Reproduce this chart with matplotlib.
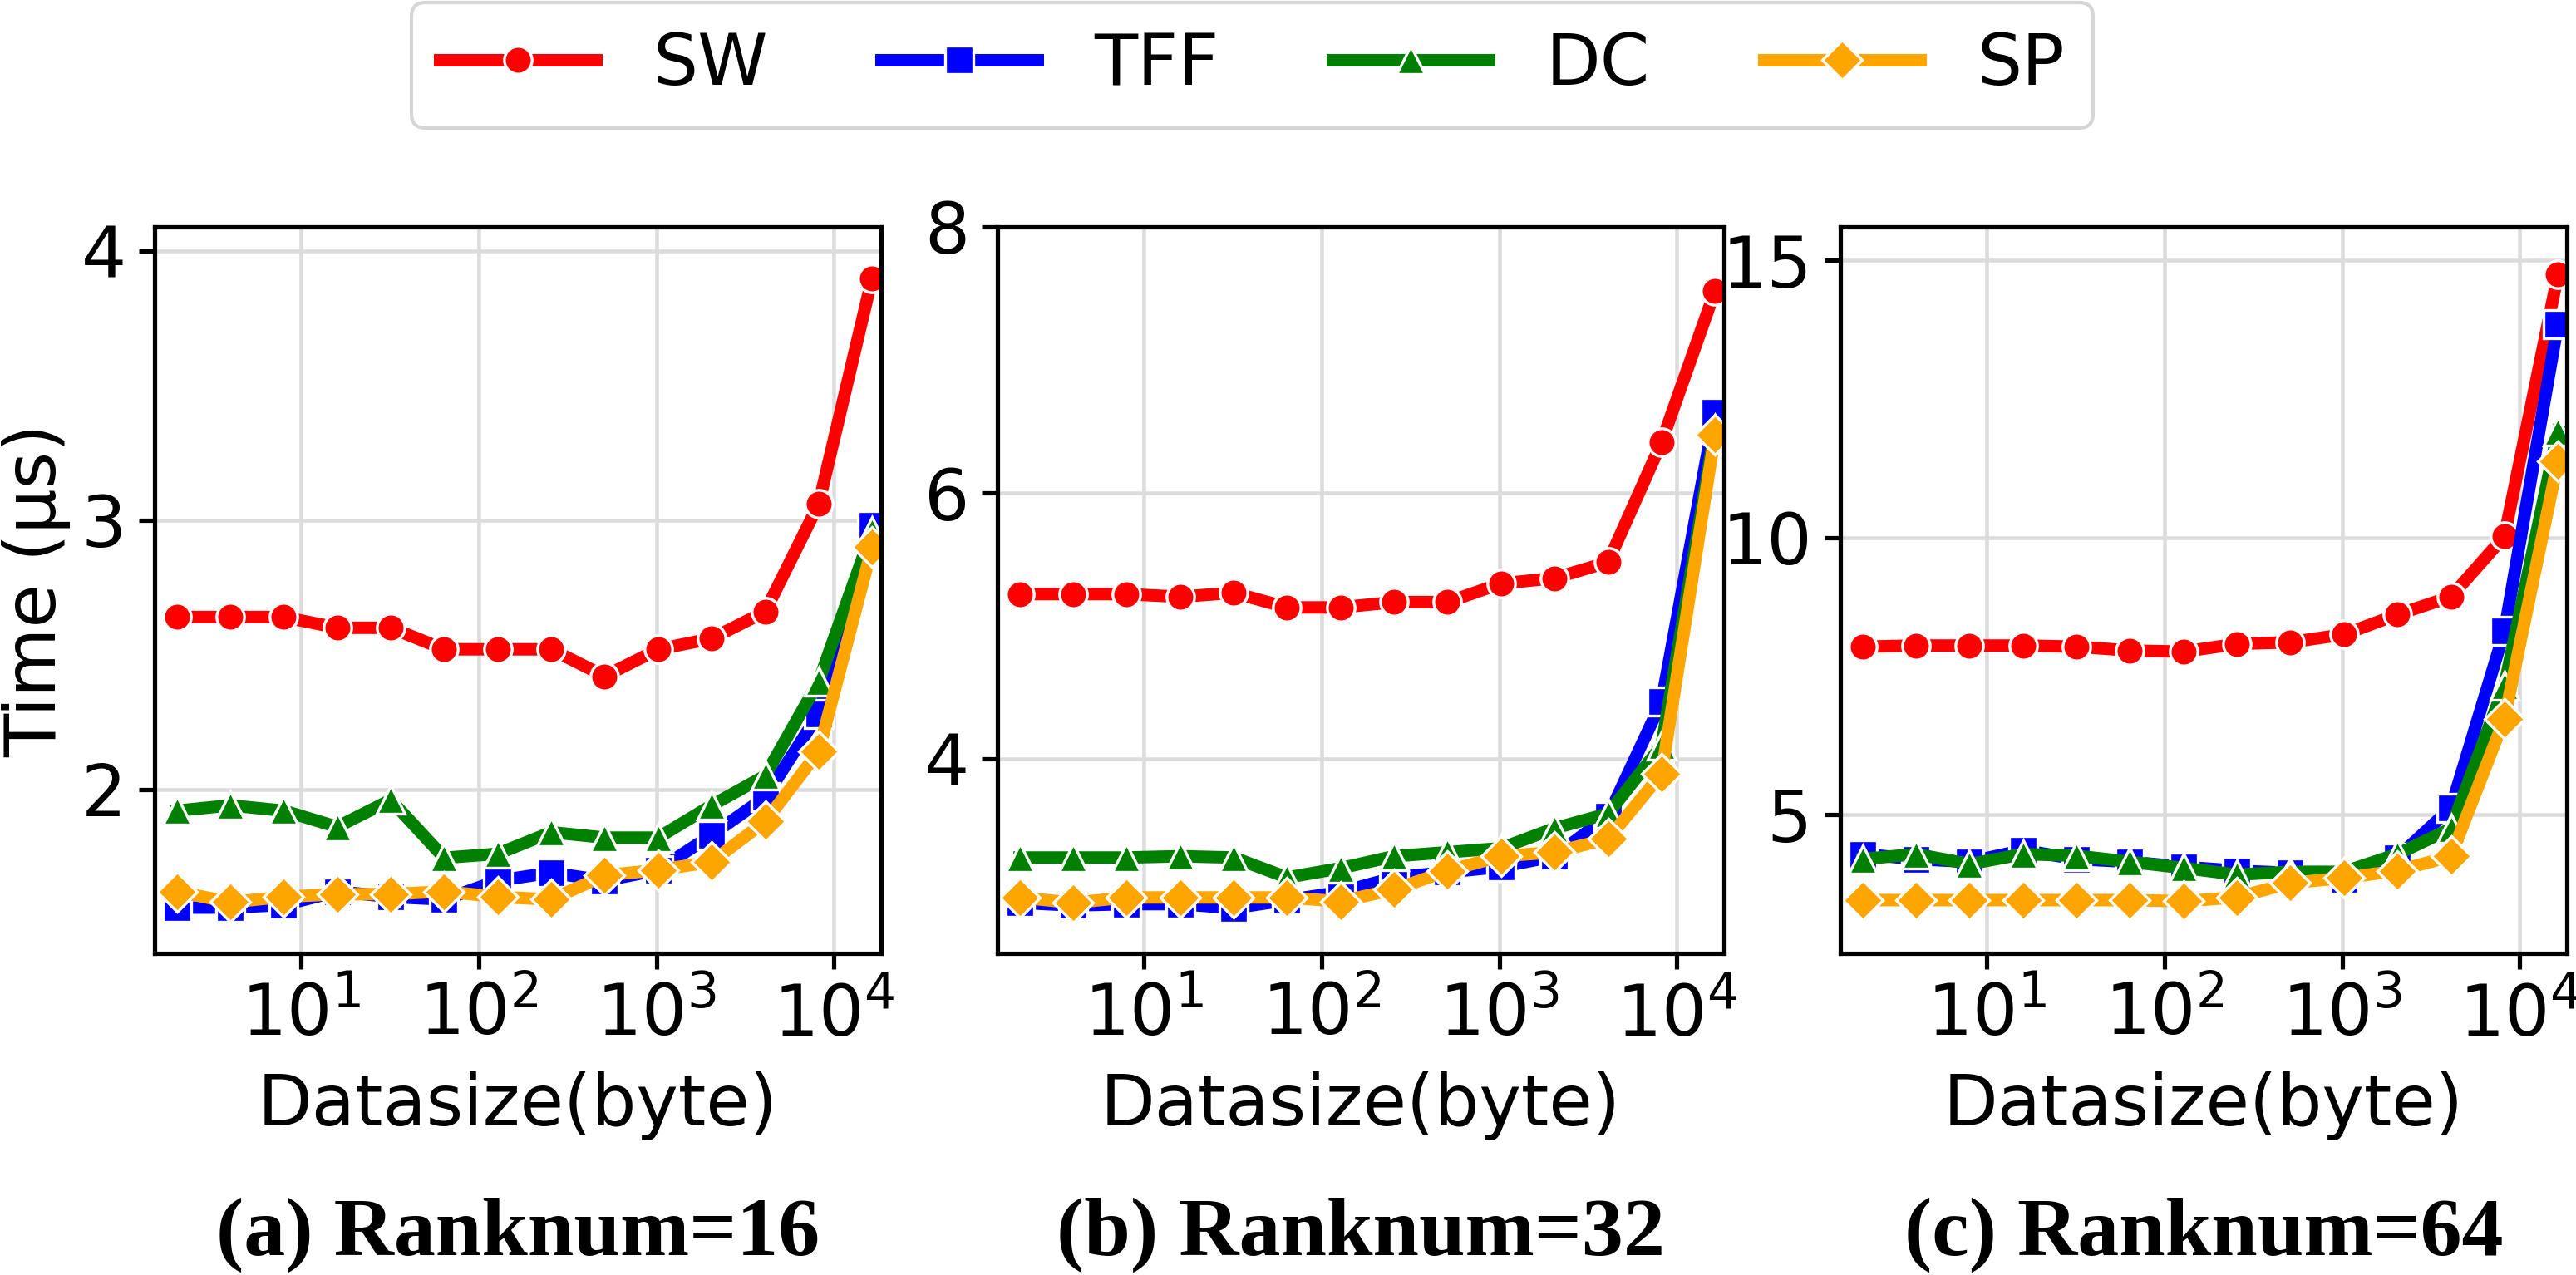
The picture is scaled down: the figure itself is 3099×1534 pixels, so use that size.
from matplotlib import pyplot as plt
import numpy as np

plt.rcParams['font.family'] = ['DejaVu Sans']
plt.rcParams['axes.unicode_minus'] = False

# data sizes (byte)
sizes = [2, 4, 8, 16, 32, 64, 128, 256, 512, 1024, 2048, 4096, 8192, 16384]
methods = ['SW', 'TFF', 'DC', 'SP']
colors = ['red', 'blue', 'green', 'orange']
markers = ['o', 's', '^', 'D']

# Ranknum=16
sw_16 = [2.64, 2.64, 2.64, 2.60, 2.60, 2.52, 2.52, 2.52, 2.42, 2.52, 2.56, 2.66, 3.06, 3.90]
tff_16 = [1.56, 1.56, 1.57, 1.62, 1.60, 1.59, 1.66, 1.69, 1.66, 1.70, 1.83, 1.97, 2.28, 2.98]
dc_16 = [1.92, 1.94, 1.92, 1.86, 1.96, 1.745, 1.76, 1.84, 1.82, 1.82, 1.94, 2.05, 2.40, 2.96]
sp_16 = [1.62, 1.58, 1.60, 1.61, 1.61, 1.62, 1.60, 1.59, 1.68, 1.70, 1.73, 1.88, 2.14, 2.90]

# Ranknum=32
sw_32 = [5.24, 5.24, 5.24, 5.22, 5.25, 5.14, 5.14, 5.18, 5.18, 5.32, 5.36, 5.48, 6.38, 7.52]
tff_32 = [2.92, 2.90, 2.91, 2.91, 2.88, 2.94, 3.00, 3.11, 3.15, 3.19, 3.27, 3.57, 4.43, 6.61]
dc_32 = [3.26, 3.26, 3.26, 3.27, 3.26, 3.11, 3.18, 3.27, 3.30, 3.33, 3.48, 3.59, 4.10, 6.48]
sp_32 = [2.96, 2.92, 2.96, 2.96, 2.96, 2.96, 2.93, 3.02, 3.16, 3.27, 3.30, 3.40, 3.89, 6.44]

# Ranknum=64
sw_64 = [8.03, 8.05, 8.05, 8.05, 8.03, 7.96, 7.94, 8.08, 8.11, 8.25, 8.61, 8.93, 10.02, 14.74]
tff_64 = [4.29, 4.20, 4.15, 4.36, 4.20, 4.15, 4.06, 3.99, 3.95, 3.83, 4.23, 5.12, 8.31, 13.85]
dc_64 = [4.20, 4.29, 4.11, 4.29, 4.26, 4.15, 4.04, 3.92, 3.97, 3.97, 4.29, 4.75, 7.33, 11.92]
sp_64 = [3.46, 3.46, 3.46, 3.46, 3.46, 3.46, 3.44, 3.51, 3.77, 3.86, 3.99, 4.25, 6.73, 11.37]

panels = [
    ([sw_16, tff_16, dc_16, sp_16], '(a) Ranknum=16', (1.39, 4.09), [2, 3, 4]),
    ([sw_32, tff_32, dc_32, sp_32], '(b) Ranknum=32', (2.54, 8.0), [4, 6, 8]),
    ([sw_64, tff_64, dc_64, sp_64], '(c) Ranknum=64', (2.5, 15.6), [5, 10, 15]),
]

W, H = 3099, 1534
fig = plt.figure(figsize=(W / 300, H / 300), dpi=300)
lefts = [186, 1200, 2214]
fs = 20.5

for k, (series, title, ylim, yticks) in enumerate(panels):
    ax = fig.add_axes([lefts[k] / W, (H - 1147) / H, 874 / W, 874 / H])
    for name, vals, c, m in zip(methods, series, colors, markers):
        ax.plot(sizes, vals, color=c, marker=m, label=name, lw=3.6, ms=8,
                mec='white', mew=0.8)
    ax.set_xscale('log')
    ax.set_xlim(1.5, 18400)
    ax.set_ylim(*ylim)
    ax.set_yticks(yticks)
    ax.set_xticks([10, 100, 1000, 10000])
    ax.minorticks_off()
    ax.grid(True, color='#dcdcdc', lw=1.1)
    ax.set_axisbelow(True)
    for s in ax.spines.values():
        s.set_linewidth(1.25)
        s.set_color('black')
    ax.tick_params(labelsize=fs, length=4.6, width=1.25, pad=3.5)
    ax.set_xlabel('Datasize(byte)', fontsize=fs, labelpad=6)
    if k == 0:
        ax.set_ylabel('Time (μs)', fontsize=fs, labelpad=3)
        handles, labels = ax.get_legend_handles_labels()
    cx = (lefts[k] + 437) / W
    fig.text(cx, 24 / H, title, ha='center', va='baseline', fontsize=24,
             fontweight='bold', family=['Liberation Serif', 'DejaVu Serif'])

fig.legend(handles, labels, loc='upper center', bbox_to_anchor=(0.486, 0.998),
           ncol=4, fontsize=fs, handlelength=2.2, columnspacing=1.6,
           borderaxespad=0.0, fancybox=True, edgecolor='#cccccc')

plt.savefig('out.png', dpi=300)
